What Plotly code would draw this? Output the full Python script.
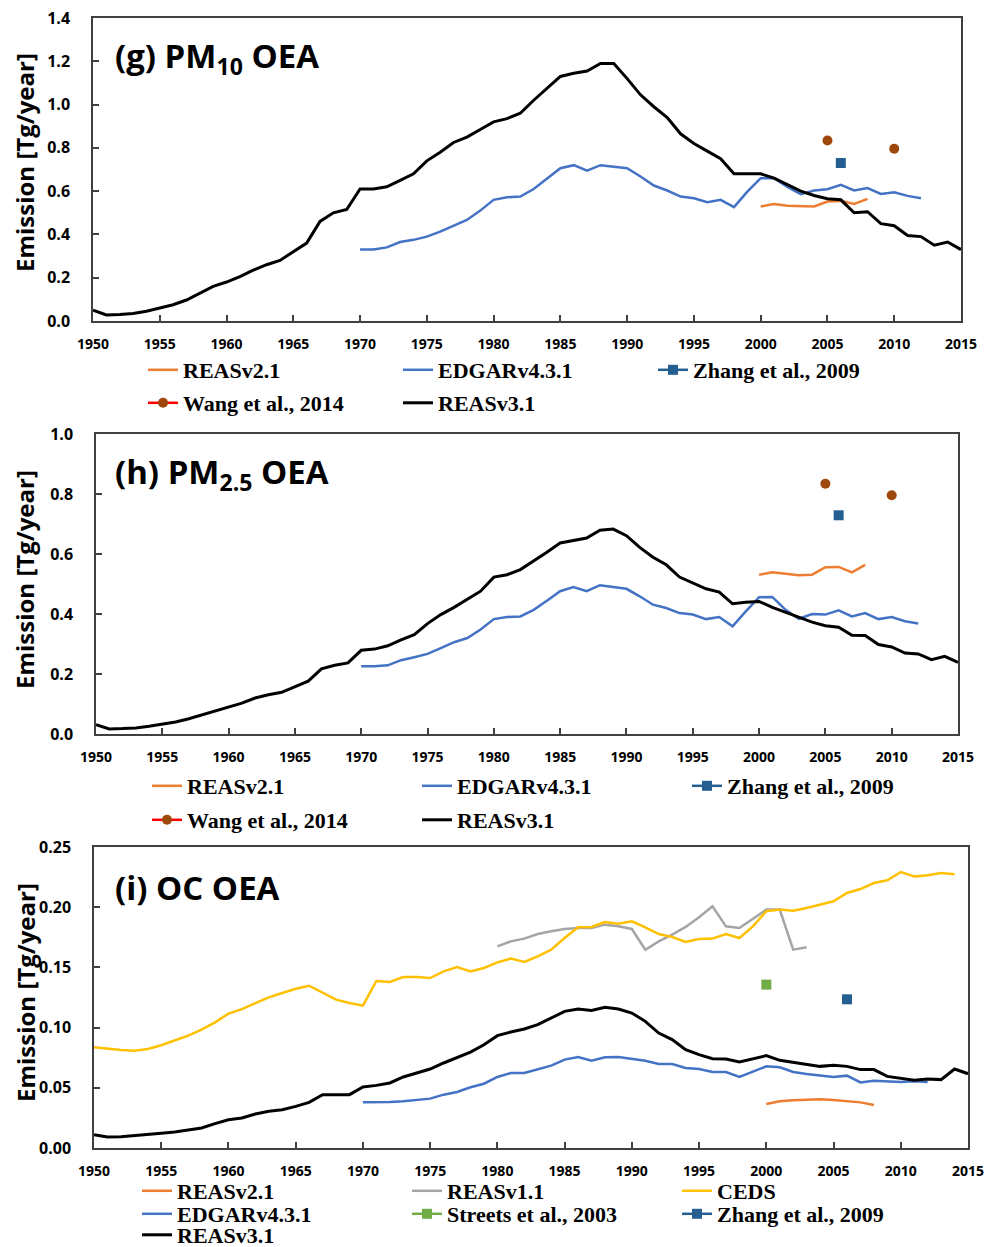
import plotly.graph_objects as go

W, H = 987, 1247

# ---------------- data ----------------
years_full = list(range(1950, 2016))
years_edgar = list(range(1970, 2013))
years_reas2 = list(range(2000, 2009))
years_ceds = list(range(1950, 2015))
years_reas1 = list(range(1980, 2004))
years_wang = list(range(2005, 2011))

# (g) PM10
g_reas3 = [0.050, 0.028, 0.030, 0.035, 0.045, 0.060, 0.075, 0.097, 0.130, 0.160,
           0.180, 0.205, 0.235, 0.260, 0.280, 0.320, 0.360, 0.460, 0.500, 0.515,
           0.610, 0.610, 0.620, 0.650, 0.680, 0.740, 0.780, 0.825, 0.850, 0.885,
           0.920, 0.935, 0.960, 1.020, 1.075, 1.130, 1.145, 1.155, 1.190, 1.190,
           1.120, 1.045, 0.990, 0.940, 0.865, 0.820, 0.785, 0.750, 0.680, 0.680,
           0.680, 0.660, 0.630, 0.600, 0.580, 0.565, 0.560, 0.500, 0.505, 0.450,
           0.440, 0.395, 0.390, 0.350, 0.365, 0.330]
g_edgar = [0.330, 0.330, 0.340, 0.365, 0.375, 0.390, 0.413, 0.440, 0.467, 0.510,
           0.560, 0.572, 0.575, 0.610, 0.657, 0.706, 0.720, 0.695, 0.720, 0.714,
           0.706, 0.668, 0.626, 0.603, 0.575, 0.567, 0.549, 0.560, 0.526, 0.598,
           0.660, 0.660, 0.620, 0.586, 0.603, 0.609, 0.629, 0.603, 0.614, 0.587,
           0.595, 0.578, 0.567]
g_reas2 = [0.529, 0.541, 0.532, 0.529, 0.529, 0.552, 0.555, 0.541, 0.564]
g_zhang = [0.730]
g_wang = [0.834, None, None, None, None, 0.796]

# (h) PM2.5
h_reas3 = [0.031, 0.017, 0.018, 0.020, 0.026, 0.033, 0.040, 0.051, 0.064, 0.079,
           0.092, 0.103, 0.120, 0.131, 0.139, 0.157, 0.176, 0.217, 0.229, 0.237,
           0.279, 0.283, 0.294, 0.314, 0.331, 0.368, 0.398, 0.422, 0.448, 0.476,
           0.523, 0.531, 0.548, 0.576, 0.606, 0.637, 0.646, 0.653, 0.679, 0.683,
           0.661, 0.622, 0.589, 0.564, 0.523, 0.503, 0.484, 0.473, 0.434, 0.439,
           0.442, 0.422, 0.406, 0.389, 0.373, 0.361, 0.356, 0.329, 0.328, 0.298,
           0.290, 0.270, 0.267, 0.248, 0.259, 0.239]
h_edgar = [0.226, 0.226, 0.229, 0.246, 0.256, 0.267, 0.286, 0.306, 0.320, 0.348,
           0.383, 0.390, 0.392, 0.414, 0.444, 0.476, 0.490, 0.476, 0.496, 0.490,
           0.484, 0.459, 0.431, 0.420, 0.403, 0.398, 0.383, 0.390, 0.359, 0.409,
           0.456, 0.457, 0.414, 0.384, 0.400, 0.398, 0.412, 0.392, 0.403, 0.383,
           0.390, 0.376, 0.368]
h_reas2 = [0.531, 0.539, 0.534, 0.529, 0.531, 0.556, 0.557, 0.539, 0.564]
h_zhang = [0.729]
h_wang = [0.834, None, None, None, None, 0.796]

# (i) OC
i_reas3 = [0.0111, 0.0091, 0.0094, 0.0102, 0.0111, 0.0122, 0.0133, 0.0147, 0.0166, 0.0202,
           0.0235, 0.0249, 0.0282, 0.0305, 0.0318, 0.0346, 0.0379, 0.0443, 0.0443, 0.0443,
           0.0507, 0.0520, 0.0540, 0.0590, 0.0623, 0.0656, 0.0706, 0.0753, 0.0797, 0.0858,
           0.0933, 0.0963, 0.0988, 0.1024, 0.1080, 0.1135, 0.1154, 0.1143, 0.1168, 0.1154,
           0.1121, 0.1052, 0.0955, 0.0900, 0.0817, 0.0775, 0.0742, 0.0739, 0.0714, 0.0742,
           0.0767, 0.0728, 0.0712, 0.0700, 0.0678, 0.0687, 0.0678, 0.0651, 0.0651, 0.0595,
           0.0581, 0.0562, 0.0573, 0.0568, 0.0656, 0.0617]
i_edgar = [0.0379, 0.0379, 0.0382, 0.0388, 0.0396, 0.0410, 0.0443, 0.0465, 0.0504, 0.0534,
           0.0590, 0.0623, 0.0623, 0.0656, 0.0684, 0.0734, 0.0756, 0.0725, 0.0753, 0.0756,
           0.0742, 0.0725, 0.0698, 0.0698, 0.0664, 0.0656, 0.0631, 0.0631, 0.0590, 0.0637,
           0.0678, 0.0670, 0.0631, 0.0615, 0.0604, 0.0590, 0.0601, 0.0545, 0.0559, 0.0554,
           0.0548, 0.0554, 0.0548]
i_reas2 = [0.0365, 0.0388, 0.0396, 0.0399, 0.0404, 0.0399, 0.0390, 0.0379, 0.0357]
i_ceds = [0.0836, 0.0822, 0.0814, 0.0808, 0.0822, 0.0853, 0.0891, 0.0933, 0.0983, 0.1044,
          0.1116, 0.1154, 0.1204, 0.1251, 0.1287, 0.1323, 0.1348, 0.1287, 0.1232, 0.1204,
          0.1182, 0.1387, 0.1379, 0.1420, 0.1420, 0.1412, 0.1467, 0.1503, 0.1467, 0.1495,
          0.1542, 0.1573, 0.1545, 0.1592, 0.1647, 0.1744, 0.1833, 0.1836, 0.1877, 0.1863,
          0.1883, 0.1833, 0.1777, 0.1752, 0.1711, 0.1736, 0.1739, 0.1777, 0.1744, 0.1841,
          0.1966, 0.1980, 0.1971, 0.1993, 0.2021, 0.2049, 0.2118, 0.2151, 0.2201, 0.2223,
          0.2292, 0.2256, 0.2265, 0.2284, 0.2273]
i_reas1 = [0.1675, 0.1716, 0.1739, 0.1777, 0.1800, 0.1819, 0.1827, 0.1827, 0.1855, 0.1841,
           0.1819, 0.1647, 0.1716, 0.1772, 0.1836, 0.1916, 0.2007, 0.1841, 0.1827, 0.1902,
           0.1980, 0.1980, 0.1647, 0.1667]
i_streets = [0.1357]
i_zhang = [0.1235]

x_ticks = list(range(1950, 2016, 5))

# ---------------- styling ----------------
C_REAS2 = "#ED7D31"
C_EDGAR = "#4472C4"
C_ZHANG = "#255E91"
C_WANG = "#9E480E"
C_WANG_LINE = "#FF0000"
C_REAS1 = "#A5A5A5"
C_CEDS = "#FFC000"
C_STREETS = "#70AD47"
C_REAS3 = "#000000"

TICK_FONT = dict(family="Open Sans", size=14, color="black", weight="bold")
YTICK_FONT = dict(family="Open Sans", size=16, color="black", weight="bold")
LEG_FONT = dict(family="Liberation Serif", size=22, color="black", weight="bold")


def px_x(p):
    return p / W


def px_y(p):
    return 1 - p / H


# panel boxes in pixels: (left, right, top, bottom)
panels = {
    "g": (93, 961, 18, 321),
    "h": (96, 958, 434, 734),
    "i": (94, 968, 847, 1148),
}

fig = go.Figure()


def add_line(x, y, name, color, width, xa, ya, legend):
    fig.add_trace(go.Scatter(
        x=x, y=y, name=name, mode="lines",
        line=dict(color=color, width=width),
        xaxis=xa, yaxis=ya, legend=legend, connectgaps=False,
    ))


def add_point(x, y, name, mcolor, lcolor, symbol, xa, ya, legend, size=10):
    fig.add_trace(go.Scatter(
        x=x, y=y, name=name, mode="lines+markers",
        line=dict(color=lcolor, width=2.5),
        marker=dict(color=mcolor, symbol=symbol, size=size),
        xaxis=xa, yaxis=ya, legend=legend, connectgaps=False,
    ))


# (g)
add_line(years_reas2, g_reas2, "REASv2.1", C_REAS2, 2.5, "x", "y", "legend")
add_line(years_edgar, g_edgar, "EDGARv4.3.1", C_EDGAR, 2.5, "x", "y", "legend")
add_point([2006], g_zhang, "Zhang et al., 2009", C_ZHANG, C_ZHANG, "square", "x", "y", "legend")
add_point(years_wang, g_wang, "Wang et al., 2014", C_WANG, C_WANG_LINE, "circle", "x", "y", "legend2")
add_line(years_full, g_reas3, "REASv3.1", C_REAS3, 3, "x", "y", "legend2")

# (h)
add_line(years_reas2, h_reas2, "REASv2.1", C_REAS2, 2.5, "x2", "y2", "legend3")
add_line(years_edgar, h_edgar, "EDGARv4.3.1", C_EDGAR, 2.5, "x2", "y2", "legend3")
add_point([2006], h_zhang, "Zhang et al., 2009", C_ZHANG, C_ZHANG, "square", "x2", "y2", "legend3")
add_point(years_wang, h_wang, "Wang et al., 2014", C_WANG, C_WANG_LINE, "circle", "x2", "y2", "legend4")
add_line(years_full, h_reas3, "REASv3.1", C_REAS3, 3, "x2", "y2", "legend4")

# (i)
add_line(years_reas2, i_reas2, "REASv2.1", C_REAS2, 2.5, "x3", "y3", "legend5")
add_line(years_reas1, i_reas1, "REASv1.1", C_REAS1, 2.5, "x3", "y3", "legend5")
add_line(years_ceds, i_ceds, "CEDS", C_CEDS, 2.5, "x3", "y3", "legend5")
add_line(years_edgar, i_edgar, "EDGARv4.3.1", C_EDGAR, 2.5, "x3", "y3", "legend6")
add_point([2000], i_streets, "Streets et al., 2003", C_STREETS, C_STREETS, "square", "x3", "y3", "legend6")
add_point([2006], i_zhang, "Zhang et al., 2009", C_ZHANG, C_ZHANG, "square", "x3", "y3", "legend6")
add_line(years_full, i_reas3, "REASv3.1", C_REAS3, 3, "x3", "y3", "legend7")

axis_common = dict(
    showline=True, linecolor="#404040", linewidth=1.5, mirror=True,
    ticks="inside", ticklen=6, tickwidth=1.5, tickcolor="#404040",
    showgrid=False, zeroline=False,
)

layout = dict(
    width=W, height=H,
    margin=dict(l=0, r=0, t=0, b=0, autoexpand=False),
    paper_bgcolor="white", plot_bgcolor="white",
)

yranges = {"g": ([0, 1.4], 0.2, ".1f"), "h": ([0, 1.0], 0.2, ".1f"), "i": ([0, 0.25], 0.05, ".2f")}
suffix = {"g": "", "h": "2", "i": "3"}
for key, (l, r, t, b) in panels.items():
    s = suffix[key]
    layout["xaxis" + s] = dict(
        axis_common, domain=[px_x(l), px_x(r)], range=[1950, 2015],
        tickvals=x_ticks, ticktext=[str(v) for v in x_ticks],
        tickfont=TICK_FONT, ticklabelstandoff=9, anchor="y" + s,
    )
    yr, dt, fmt = yranges[key]
    layout["yaxis" + s] = dict(
        axis_common, domain=[px_y(b), px_y(t)], range=yr,
        tick0=0, dtick=dt, tickformat=fmt,
        tickfont=YTICK_FONT, ticklabelstandoff=18, anchor="x" + s,
    )

# legend rows: (name, left px, centre y px, entry width px)
legend_rows = [
    ("legend", 143, 370, 210),
    ("legend2", 143, 403, 210),
    ("legend3", 147, 786, 225),
    ("legend4", 147, 820, 225),
    ("legend5", 137, 1191, 225),
    ("legend6", 137, 1214, 225),
    ("legend7", 137, 1235, 225),
]
for name, lx, cy, ew in legend_rows:
    layout[name] = dict(
        orientation="h", x=px_x(lx), y=px_y(cy), xanchor="left", yanchor="middle",
        font=LEG_FONT, bgcolor="rgba(0,0,0,0)", borderwidth=0,
        entrywidth=ew, entrywidthmode="pixels", itemwidth=30,
        tracegroupgap=0,
    )

fig.update_layout(**layout)

# panel titles
titles = [
    ("<b>(g) PM<sub>10</sub> OEA</b>", 113, 58),
    ("<b>(h) PM<sub>2.5</sub> OEA</b>", 113, 473),
    ("<b>(i) OC OEA</b>", 113, 887),
]
for text, lx, cy in titles:
    fig.add_annotation(
        text=text, xref="paper", yref="paper", x=px_x(lx), y=px_y(cy),
        xanchor="left", yanchor="middle", showarrow=False,
        font=dict(family="Open Sans", size=33, color="black"),
    )

# y-axis titles
for cx, cy in [(25, 163), (25, 580), (25, 993)]:
    fig.add_annotation(
        text="<b>Emission [Tg/year]</b>", xref="paper", yref="paper",
        x=px_x(cx), y=px_y(cy), xanchor="center", yanchor="middle",
        textangle=-90, showarrow=False,
        font=dict(family="Open Sans", size=24, color="black"),
    )

fig.write_html("out.html")
